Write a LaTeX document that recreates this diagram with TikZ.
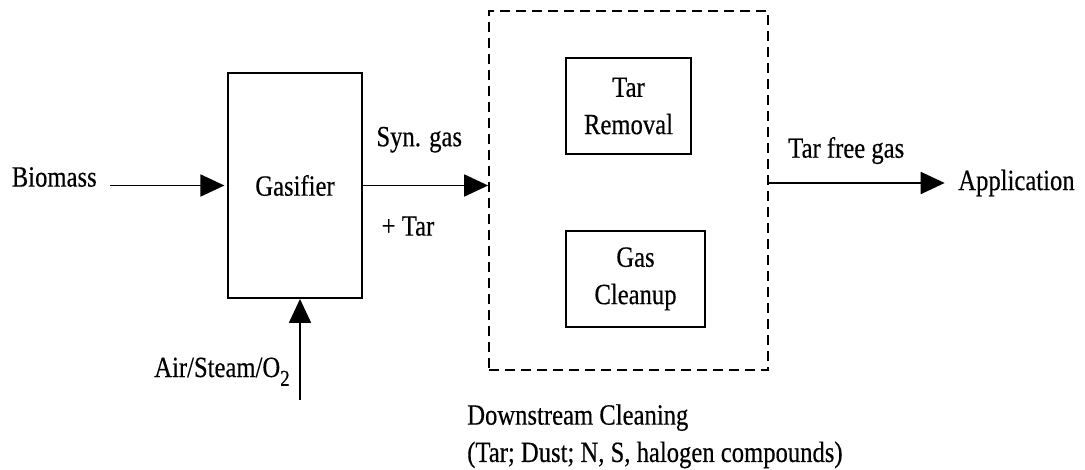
\documentclass[tikz,border=0pt]{standalone}
\usepackage{fontspec}
\setmainfont{Liberation Serif}[FakeStretch=0.84, FakeBold=0.4]
\usepackage{tikz}
\usetikzlibrary{positioning, arrows.meta}

\begin{document}
\begin{tikzpicture}[
                x=0.75pt, y=-0.75pt,
                every node/.style={font=\fontsize{22}{28}\selectfont},
                unit/.style={draw=black, line width=1.4pt, rectangle, align=center, inner sep=0pt},
                cleanbox/.style={draw=black, line width=1.3pt, dash pattern=on 7.5pt off 4.5pt, rectangle, inner sep=0pt},
                flow/.style={line width=1.4pt, -{Triangle[length=18pt, width=16.5pt]}},
                streamlabel/.style={inner sep=0pt},
                endlabel/.style={inner xsep=10pt, inner ysep=0pt}
            ]
            \useasboundingbox (0,0) rectangle (1085,470);

            % Knoten
            \node[unit, minimum width=100.5pt, minimum height=168.75pt] (gasifier) at (295,185.5) {Gasifier};
            \node[cleanbox, minimum width=209.25pt, minimum height=269.25pt] (downstream) at (628.5,190.5) {};
            \node[unit, minimum width=93.75pt, minimum height=72pt] (removal) at (628.5,106) {Tar\\Removal};
            \node[unit, minimum width=104.25pt, minimum height=72pt, below=56.25pt of removal.south west, anchor=north west] (cleanup) {Gas\\Cleanup};
            \node[endlabel, anchor=east] (biomass) at (110.3,177) {Biomass};
            \node[endlabel, anchor=west] (application) at (944.7,183) {Application};
            \node[streamlabel, anchor=base east] (air) at (290,377) {Air/Steam/O\raisebox{-0.3em}{\fontsize{17}{17}\selectfont 2}};
            \node[streamlabel, align=left, anchor=north west] (dsclabel) at (467,404) {Downstream Cleaning\\(Tar; Dust; N, S, halogen compounds)};
            \coordinate (airin) at (300,400);

            % Stroeme
            \draw[flow, shorten >=2pt] (biomass.east |- gasifier.west) -- (gasifier.west);
            \draw[flow] (gasifier.east) -- (gasifier.east -| downstream.west) node[streamlabel, pos=0.45, above=24pt] {Syn. gas} node[streamlabel, pos=0.36, below=22.5pt] {+ Tar};
            \draw[flow] (downstream.east |- application.west) -- (application.west) node[streamlabel, pos=0.44, above=13.5pt] {Tar free gas};
            \draw[flow] (airin) -- (airin |- gasifier.south);

        \end{tikzpicture}
\end{document}
